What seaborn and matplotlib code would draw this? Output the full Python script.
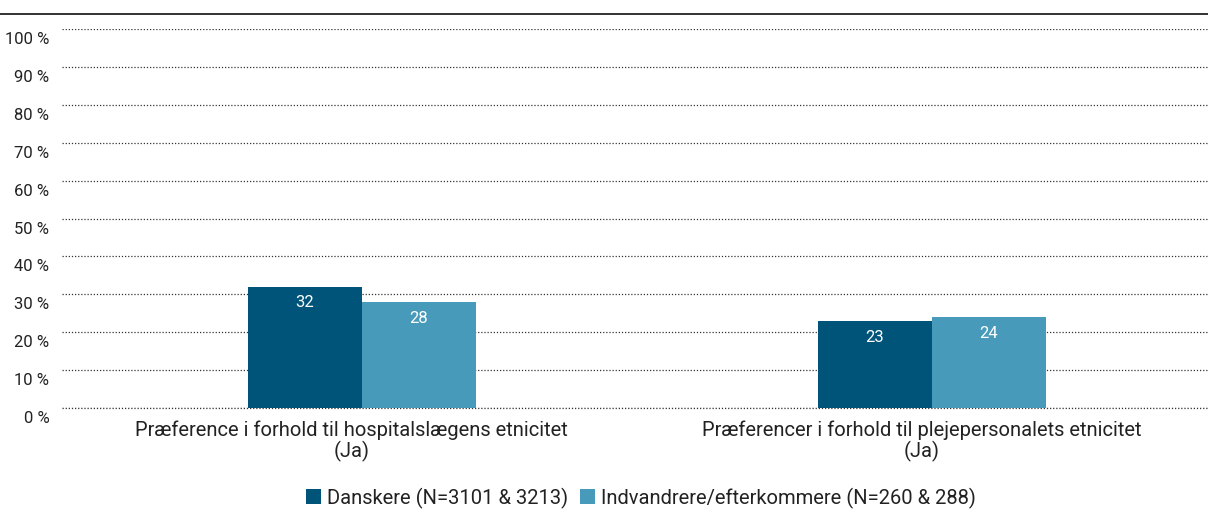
import matplotlib
matplotlib.use("Agg")
import matplotlib.pyplot as plt
import matplotlib.transforms as mtransforms
from matplotlib.lines import Line2D
from matplotlib.patches import Patch
import seaborn as sns
import pandas as pd

categories = ["Præference i forhold til hospitalslægens etnicitet\n(Ja)",
              "Præferencer i forhold til plejepersonalets etnicitet\n(Ja)"]
series_names = ["Danskere (N=3101 & 3213)", "Indvandrere/efterkommere (N=260 & 288)"]
danskere = [32, 23]
indvandrere = [28, 24]
ytick_values = [0, 10, 20, 30, 40, 50, 60, 70, 80, 90, 100]
ytick_labels = ["0 %", "10 %", "20 %", "30 %", "40 %", "50 %", "60 %", "70 %", "80 %", "90 %", "100 %"]
colors = ["#005479", "#489abb"]

sns.set_theme(style="white")
plt.rcParams['font.family'] = ['Roboto', 'DejaVu Sans']

df = pd.DataFrame({
    "cat": categories * 2,
    "serie": [series_names[0]] * 2 + [series_names[1]] * 2,
    "val": danskere + indvandrere,
})

fig = plt.figure(figsize=(12.08, 5.15), dpi=100)
ax = fig.add_axes([62 / 1208, 1 - 408 / 515, (1208 - 62) / 1208, (408 - 29) / 515])

sns.barplot(data=df, x="cat", y="val", hue="serie", palette=colors, width=0.4,
            ax=ax, legend=False, saturation=1, linewidth=0, zorder=3)

ax.set_ylim(0, 100)
ax.set_xlim(-0.526, 1.485)
ax.set_yticks(ytick_values)
ax.set_yticklabels(ytick_labels, fontsize=12, color="#222222")
ax.yaxis.grid(True, linestyle=(0, (1, 1.5)), color="#333333", linewidth=0.9, zorder=0)
ax.axhline(0, linestyle=(0, (1, 1.5)), color="#333333", linewidth=0.9, zorder=1, clip_on=False)
ax.set_axisbelow(True)
for s in ax.spines.values():
    s.set_visible(False)
ax.tick_params(axis="y", length=0, pad=9)
ax.tick_params(axis="x", length=0, pad=9)
ax.set_xlabel("")
ax.set_ylabel("")
xoff = mtransforms.ScaledTranslation(-10 / 100, 0, fig.dpi_scale_trans)
for lbl in ax.get_xticklabels():
    lbl.set_fontsize(14.5)
    lbl.set_color("#222222")
    lbl.set_linespacing(1.08)
    lbl.set_transform(lbl.get_transform() + xoff)

offset = mtransforms.ScaledTranslation(0, -9 / 100, fig.dpi_scale_trans)
for lbl in ax.get_yticklabels():
    lbl.set_transform(lbl.get_transform() + offset)

for cont in ax.containers:
    for bar in cont:
        h = bar.get_height()
        ax.text(bar.get_x() + bar.get_width() / 2, h - 2.3, f"{h:.0f}", ha="center", va="top",
                color="white", fontsize=12, zorder=4)

fig.add_artist(Line2D([0, 1], [1 - 14 / 515, 1 - 14 / 515], color="#222222", linewidth=1.3,
                      transform=fig.transFigure))

handles = [Patch(facecolor=c, edgecolor="none") for c in colors]
fig.legend(handles, series_names, loc="center", bbox_to_anchor=(641 / 1208, 1 - 498 / 515),
           ncol=2, frameon=False, fontsize=14.5, handlelength=0.75, handleheight=0.75,
           handletextpad=0.3, columnspacing=0.6, labelcolor="#222222")

fig.savefig("out.png", dpi=100)
